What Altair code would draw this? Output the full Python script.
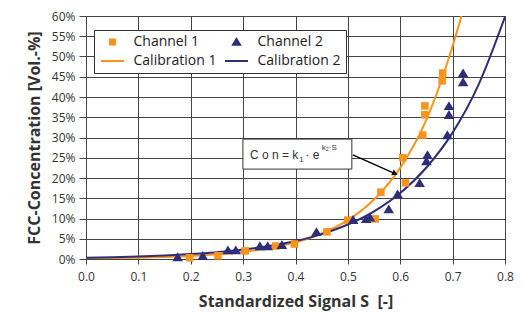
import altair as alt
import pandas as pd

# ---- data ----
ch1_s = [0.198, 0.252, 0.304, 0.362, 0.398, 0.46, 0.50, 0.552, 0.563, 0.605, 0.61, 0.643, 0.647, 0.647, 0.68, 0.681]
ch1_c = [0.3, 0.8, 2.0, 3.2, 3.7, 6.7, 9.6, 9.9, 16.5, 25.0, 18.8, 30.6, 35.6, 37.8, 44.0, 45.9]

ch2_s = [0.175, 0.223, 0.271, 0.286, 0.332, 0.347, 0.374, 0.44, 0.51, 0.535, 0.542, 0.578, 0.595,
         0.637, 0.650, 0.652, 0.69, 0.693, 0.693, 0.72, 0.72]
ch2_c = [0.5, 0.8, 2.2, 2.2, 3.2, 3.2, 3.5, 6.7, 9.7, 9.9, 10.3, 12.3, 16.0,
         18.8, 24.2, 25.7, 30.6, 35.6, 37.8, 43.7, 45.9]

cal1_s = [0.0, 0.05, 0.1, 0.15, 0.2, 0.25, 0.3, 0.35, 0.4, 0.45, 0.5, 0.55, 0.6, 0.65, 0.7, 0.717]
cal1_c = [0.14, 0.21, 0.32, 0.49, 0.75, 1.15, 1.75, 2.68, 4.1, 6.3, 9.6, 14.7, 22.5, 34.4, 52.6, 60.0]

cal2_s = [0.0, 0.05, 0.1, 0.15, 0.2, 0.25, 0.3, 0.35, 0.4, 0.45, 0.5, 0.55, 0.6, 0.65, 0.7, 0.75, 0.8]
cal2_c = [0.33, 0.46, 0.63, 0.87, 1.21, 1.68, 2.32, 3.21, 4.44, 6.15, 8.51, 11.78, 16.3, 22.6, 31.2, 43.2, 59.8]

series_names = ["Channel 1", "Channel 2", "Calibration 1", "Calibration 2"]
x_ticks = [0.0, 0.1, 0.2, 0.3, 0.4, 0.5, 0.6, 0.7, 0.8]
y_ticks = [0, 5, 10, 15, 20, 25, 30, 35, 40, 45, 50, 55, 60]

ORANGE = "#F7941D"
NAVY = "#2E2D7A"
FONT = "Open Sans"
colors = [ORANGE, NAVY, ORANGE, NAVY]

# symbol paths ([-1,1] box, scaled by sqrt(size)/2)
SQUARE = "M-0.5,-0.5H0.5V0.5H-0.5Z"
TRIANGLE = "M0,-0.62L0.7,0.55H-0.7Z"
LINE = "M-2.3,0H2.3"

pts = pd.concat([
    pd.DataFrame({"S": ch1_s, "C": ch1_c, "series": "Channel 1"}),
    pd.DataFrame({"S": ch2_s, "C": ch2_c, "series": "Channel 2"}),
])
cal = pd.concat([
    pd.DataFrame({"S": cal1_s, "C": cal1_c, "series": "Calibration 1"}),
    pd.DataFrame({"S": cal2_s, "C": cal2_c, "series": "Calibration 2"}),
])

legend = alt.Legend(
    title=None, orient="none", legendX=8, legendY=14, columns=2,
    direction="horizontal",
    labelFont=FONT, labelFontSize=14, labelColor="#222",
    symbolSize=100, symbolStrokeWidth=2, symbolOffset=6.5,
    labelOffset=14, columnPadding=4, rowPadding=5,
    padding=5, strokeColor="#333", fillColor="white")

stroke = alt.Stroke("series:N", scale=alt.Scale(domain=series_names, range=colors), legend=legend)
fill = alt.Fill("series:N", scale=alt.Scale(domain=series_names, range=colors), legend=legend)
shape = alt.Shape("series:N",
                  scale=alt.Scale(domain=series_names, range=[SQUARE, TRIANGLE, LINE, LINE]),
                  legend=legend)

x_axis = alt.Axis(values=x_ticks, format=".1f", labelFlush=False, tickSize=5, labelPadding=7,
                  titlePadding=11, title="Standardized Signal S\u00a0 [-]")
y_axis = alt.Axis(values=y_ticks, labelExpr="datum.value + '%'", labelOverlap=False,
                  labelFlush=False, tickSize=7, labelPadding=4, titlePadding=9,
                  title="FCC-Concentration [Vol.-%]")
x_scale = alt.Scale(domain=[0, 0.8], nice=False)
y_scale = alt.Scale(domain=[0, 60], nice=False)


def X(f):
    return alt.X(f, type="quantitative", scale=x_scale, axis=x_axis)


def Y(f):
    return alt.Y(f, type="quantitative", scale=y_scale, axis=y_axis)


lines = alt.Chart(cal).mark_line(strokeWidth=2, interpolate="monotone", clip=True).encode(
    x=X("S"), y=Y("C"), stroke=stroke, detail="series:N")
points = alt.Chart(pts).mark_point(filled=True, opacity=1, strokeWidth=0, size=230).encode(
    x=X("S"), y=Y("C"), fill=fill, stroke=stroke, shape=shape)

# annotation (formula box and arrow)
ANN_FONT = "Liberation Sans"
box = pd.DataFrame({"S": [0.2996], "S2": [0.5076], "C": [22.2], "C2": [29.6]})
ann_box = alt.Chart(box).mark_rect(fill="white", stroke="#333", strokeWidth=1).encode(
    x=X("S"), x2="S2:Q", y=Y("C"), y2="C2:Q")
txt = pd.DataFrame({"S": [0.313], "C": [25.6], "t": ["C o n = k"]})
ann_txt = alt.Chart(txt).mark_text(align="left", baseline="middle", font=ANN_FONT,
                                   fontSize=12, color="#333").encode(x=X("S"), y=Y("C"), text="t:N")
sub = pd.DataFrame({"S": [0.407], "C": [24.5], "t": ["1"]})
ann_sub = alt.Chart(sub).mark_text(align="left", baseline="middle", font=ANN_FONT,
                                   fontSize=8, color="#333").encode(x=X("S"), y=Y("C"), text="t:N")
e_txt = pd.DataFrame({"S": [0.419], "C": [25.6], "t": ["· e"]})
ann_e = alt.Chart(e_txt).mark_text(align="left", baseline="middle", font=ANN_FONT,
                                   fontSize=12, color="#333").encode(x=X("S"), y=Y("C"), text="t:N")
sup = pd.DataFrame({"S": [0.450], "C": [27.5], "t": ["k₂·S"]})
ann_sup = alt.Chart(sup).mark_text(align="left", baseline="middle", font=ANN_FONT,
                                   fontSize=8, color="#333").encode(x=X("S"), y=Y("C"), text="t:N")
arr = pd.DataFrame({"S": [0.5095], "C": [25.7], "S2": [0.590], "C2": [21.1]})
ann_line = alt.Chart(arr).mark_rule(color="black", strokeWidth=1.3).encode(
    x=X("S"), y=Y("C"), x2="S2:Q", y2="C2:Q")
head = pd.DataFrame({"S": [0.590], "C": [21.1]})
ann_head = alt.Chart(head).mark_point(shape="triangle-right", filled=True, color="black",
                                      size=40, angle=24, opacity=1).encode(x=X("S"), y=Y("C"))

chart = alt.layer(lines, points, ann_line, ann_head, ann_box, ann_txt, ann_sub, ann_e, ann_sup).properties(
    width=419, height=243, autosize="none",
    padding={"left": 78, "top": 8, "right": 10, "bottom": 54},
).configure_view(stroke="#444", strokeWidth=1).configure_axis(
    grid=True, gridColor="#444", gridWidth=1, gridOpacity=1,
    domainColor="#444", tickColor="#444",
    labelFont=FONT, labelFontSize=12, labelColor="#333",
    titleFont=FONT, titleFontSize=16, titleFontWeight="bold", titleColor="#333",
)

chart.save("out.html", embed_options={"renderer": "svg", "actions": False})
